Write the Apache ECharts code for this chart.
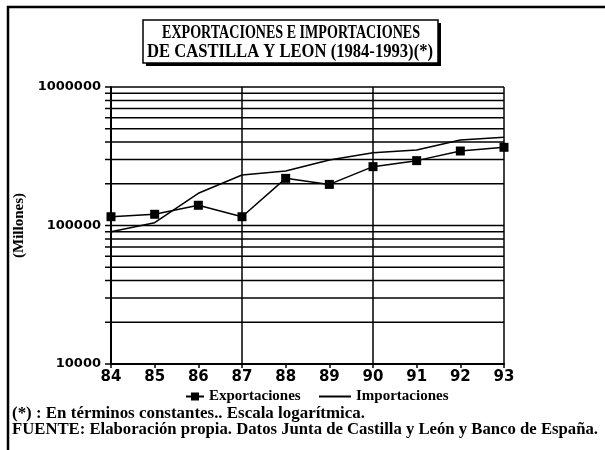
<!DOCTYPE html>
<html>
<head>
<meta charset="utf-8">
<script src="https://cdn.jsdelivr.net/npm/echarts@6/dist/echarts.min.js"></script>
<style>
  html, body { margin: 0; padding: 0; background: #fff; }
  #chart { width: 605px; height: 450px; }
</style>
</head>
<body>
<div id="chart"></div>
<script>
// Years (two digits, as printed on the axis)
var years = ['84', '85', '86', '87', '88', '89', '90', '91', '92', '93'];

// Millones de pesetas
var exportaciones = [115700, 120500, 140000, 115700, 219000, 198000, 266000, 294000, 345000, 367000];
var importaciones = [90200, 104700, 170800, 231500, 247500, 297000, 335500, 351000, 414000, 433000];

// Horizontal rules of the log paper
var gridValues = [
  10000, 20000, 30000, 40000, 50000, 60000, 70000, 80000, 90000,
  100000, 200000, 300000, 400000, 500000, 600000, 700000, 800000, 900000,
  1000000
];
var yLabels = [10000, 100000, 1000000];

var serif = '"Liberation Serif", "DejaVu Serif", serif';
var sans = '"DejaVu Sans", sans-serif';

// squeeze a text so it spans a given width (the original type is condensed)
function fitScale(text, font, width) {
  var ctx = document.createElement('canvas').getContext('2d');
  ctx.font = font;
  return width / ctx.measureText(text).width;
}

var chart = echarts.init(document.getElementById('chart'), null, { renderer: 'canvas' });

var title1 = 'EXPORTACIONES E IMPORTACIONES';
var title2 = 'DE CASTILLA Y LEON (1984-1993)(*)';
var note1 = '(*) : En términos constantes.. Escala logarítmica.';
var note2 = 'FUENTE: Elaboración propia. Datos Junta de Castilla y León y Banco de España.';

function squeezed(text, size, x, y, width, align) {
  var s = fitScale(text, 'bold ' + size + 'px ' + serif, width);
  return {
    type: 'text',
    x: x, y: y,
    scaleX: s,
    style: {
      text: text,
      fontFamily: serif,
      fontWeight: 'bold',
      fontSize: size,
      fill: '#000',
      align: align,
      verticalAlign: 'middle'
    }
  };
}

var legendText = { fontFamily: serif, fontWeight: 'bold', fontSize: 15, color: '#000' };

var option = {
  backgroundColor: '#fff',
  animation: false,
  grid: { left: 111, right: 101, top: 87, bottom: 86 },
  legend: [
    {
      top: 384,
      left: 180,
      itemWidth: 18,
      itemHeight: 10,
      textStyle: legendText,
      data: ['Exportaciones']
    },
    {
      top: 384,
      left: 313,
      itemWidth: 32,
      itemHeight: 10,
      textStyle: legendText,
      data: [{
        name: 'Importaciones',
        itemStyle: { color: 'rgba(0,0,0,0)', borderColor: 'rgba(0,0,0,0)', borderWidth: 0 }
      }]
    }
  ],
  xAxis: {
    type: 'category',
    data: years,
    boundaryGap: false,
    axisLine: { lineStyle: { color: '#000', width: 2 } },
    axisTick: { show: true, length: 4, lineStyle: { color: '#000', width: 1.5 } },
    axisLabel: { color: '#000', fontFamily: sans, fontWeight: 'bold', fontSize: 15, margin: 6 },
    splitLine: {
      show: true,
      interval: function (i) { return i % 3 === 0; },
      lineStyle: { color: '#000', width: 1.5 }
    }
  },
  yAxis: {
    type: 'log',
    logBase: 10,
    min: 10000,
    max: 1000000,
    name: '(Millones)',
    nameLocation: 'middle',
    nameRotate: 90,
    nameGap: 80,
    nameTextStyle: { fontFamily: serif, fontWeight: 'bold', fontSize: 15, color: '#000' },
    axisLine: { show: true, lineStyle: { color: '#000', width: 2 } },
    axisTick: { show: false },
    splitLine: { show: false },
    axisLabel: {
      color: '#000', fontFamily: sans, fontWeight: 'bold', fontSize: 13, margin: 10,
      formatter: function (v) { return yLabels.indexOf(v) >= 0 ? String(v) : ''; }
    }
  },
  series: [
    {
      // log-paper rules with their outer ticks
      type: 'custom',
      silent: true,
      data: gridValues,
      encode: { y: 0 },
      renderItem: function (params, api) {
        var v = api.value(0);
        var a = api.coord([0, v]);
        var b = api.coord([years.length - 1, v]);
        return {
          type: 'line',
          shape: { x1: a[0] - 6, y1: a[1], x2: b[0], y2: b[1] },
          style: { stroke: '#000', lineWidth: 1.5 }
        };
      },
      z: 1
    },
    {
      name: 'Exportaciones',
      type: 'line',
      data: exportaciones,
      symbol: 'rect',
      symbolSize: 9,
      itemStyle: { color: '#000' },
      lineStyle: { color: '#000', width: 1.5 },
      z: 3
    },
    {
      name: 'Importaciones',
      type: 'line',
      data: importaciones,
      symbol: 'none',
      itemStyle: { color: '#000' },
      lineStyle: { color: '#000', width: 1.5 },
      z: 3
    }
  ],
  graphic: [
    // outer frame (top and left edges)
    {
      type: 'polyline',
      shape: { points: [[8, 450], [8, 7], [605, 7]] },
      style: { stroke: '#000', lineWidth: 2.5, fill: null }
    },
    // title box shadow and box
    { type: 'rect', shape: { x: 146, y: 23, width: 295, height: 43 }, style: { fill: '#000' } },
    { type: 'rect', shape: { x: 143, y: 20, width: 295, height: 43 }, style: { fill: '#fff', stroke: '#000', lineWidth: 1.5 } },
    squeezed(title1, 18, 291, 33, 258, 'center'),
    squeezed(title2, 18, 290, 52, 286, 'center'),
    squeezed(note1, 16, 12, 414, 353, 'left'),
    squeezed(note2, 16, 12, 430, 586, 'left')
  ]
};

chart.setOption(option);
</script>
</body>
</html>
